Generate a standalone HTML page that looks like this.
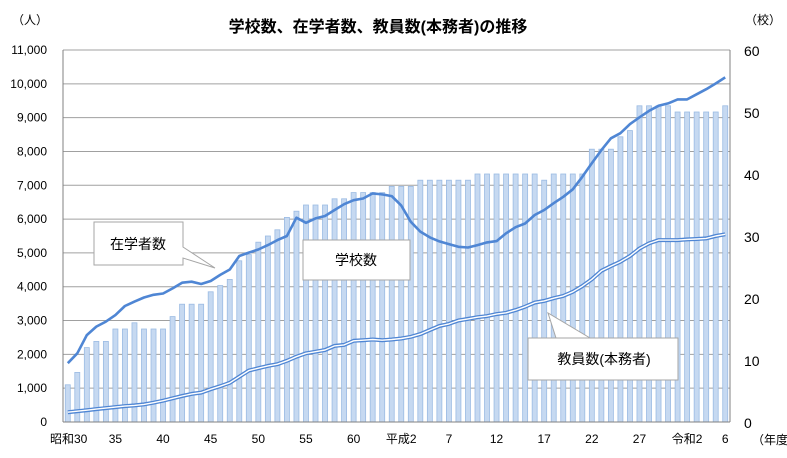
<!DOCTYPE html>
<html><head><meta charset="utf-8"><style>
body{margin:0;background:#fff;}
svg text{font-family:"Liberation Sans","Noto Sans CJK JP",sans-serif;}
</style></head><body>
<svg id="chart" width="787" height="453" xmlns="http://www.w3.org/2000/svg">
<text x="378" y="32" text-anchor="middle" font-size="16" font-weight="bold" fill="#000">学校数、在学者数、教員数(本務者)の推移</text>
<text x="12" y="24" font-size="12" fill="#000">（人）</text>
<text x="745" y="24" font-size="12" fill="#000">（校）</text>
<text x="752" y="444" font-size="12" fill="#000">（年度）</text>
<g id="grid"></g><g id="bars"></g><g id="lines"></g><g id="axes"></g>
<g id="callouts">
<g>
<path d="M94,222 H183 V247 L215,268 L183,258 V265 H94 Z" fill="#fff" stroke="#a6a6a6"/>
<text x="138" y="249" text-anchor="middle" font-size="14" fill="#000">在学者数</text></g>
<g>
<rect x="303" y="240" width="107" height="40" fill="#fff" stroke="#a6a6a6"/>
<text x="356" y="265" text-anchor="middle" font-size="14" fill="#000">学校数</text></g>
<g>
<path d="M528,338 H590 L548,313 L556,338 H678 V380 H528 Z" fill="#fff" stroke="#a6a6a6"/>
<text x="604" y="364" text-anchor="middle" font-size="14" fill="#000">教員数(本務者)</text></g>
</g>
</svg>
<script>
const years = [];for(let y=1955;y<=2024;y++)years.push(y);
const xLabels = ["昭和30","35","40","45","50","55","60","平成2","7","12","17","22","27","令和2","6"];
const xLabelYears = [1955,1960,1965,1970,1975,1980,1985,1990,1995,2000,2005,2010,2015,2020,2024];
const leftTicks = [0,1000,2000,3000,4000,5000,6000,7000,8000,9000,10000,11000];
const rightTicks = [0,10,20,30,40,50,60];
const schools = [6,8,12,13,13,15,15,16,15,15,15,17,19,19,19,21,22,23,26,27,29,30,31,33,34,35,35,35,36,36,37,37,37,37,38,38,
38,39,39,39,39,39,39,40,40,40,40,40,40,40,39,40,40,40,40,44,44,44,46,47,51,51,51,51,50,50,50,50,50,51];
const students = [1740,2030,2570,2820,2970,3160,3430,3560,3680,3760,3800,3950,4120,4150,4080,4170,4350,4510,4910,5010,5100,5230,5380,5500,6040,5890,6020,6090,6270,6440,6560,6610,6760,6730,6680,6400,
5920,5630,5460,5340,5260,5180,5160,5230,5310,5350,5580,5760,5870,6120,6270,6470,6660,6880,7250,7650,8040,8390,8540,8810,9010,9200,9350,9420,9540,9540,9690,9840,10010,10190];
const teachers = [290,320,350,380,410,440,470,490,520,570,630,700,770,830,870,970,1060,1160,1340,1520,1590,1660,1710,1810,1930,2030,2080,2130,2250,2280,2400,2420,2440,2420,2440,2470,
2520,2600,2720,2840,2900,3000,3050,3100,3130,3190,3230,3310,3410,3530,3580,3660,3730,3850,4020,4220,4470,4610,4740,4910,5130,5280,5380,5380,5380,5400,5410,5430,5500,5550];
const X0=63,X1=730,Y0=422,Y1=50;
const band=(X1-X0)/years.length;
const xC=i=>X0+band*(i+0.5);
const yL=v=>Y0-(v/11000)*(Y0-Y1);
const yR=v=>Y0-(v/60)*(Y0-Y1);
const NS="http://www.w3.org/2000/svg";
function mk(tag,attrs,parent){const e=document.createElementNS(NS,tag);for(const k in attrs)e.setAttribute(k,attrs[k]);document.getElementById(parent).appendChild(e);return e;}
leftTicks.forEach(t=>{
 const l=mk('line',{x1:X0,x2:X1,y1:yL(t),y2:yL(t),stroke:'#a0a0a0','stroke-width':1},'grid');
 
 
 const tx=mk('text',{x:47,y:yL(t)+4,'text-anchor':'end','font-size':12,fill:'#000'},'axes');
 tx.textContent=t.toLocaleString('en-US');
 
 
});
rightTicks.forEach(t=>{
 const tx=mk('text',{x:744,y:yR(t)+6,'font-size':14,fill:'#000'},'axes');
 tx.textContent=t;
 
 
});
schools.forEach((v,i)=>{
 const r=mk('rect',{x:xC(i)-2.5,y:yR(v),width:5,height:Y0-yR(v),fill:'#c6d9f1',stroke:'#9bbbe3','stroke-width':0.8},'bars');
 
 
});
const pts=arr=>arr.map((v,i)=>xC(i).toFixed(1)+','+yL(v).toFixed(1)).join(' ');
const s=mk('polyline',{points:pts(students),fill:'none',stroke:'#4f86d4','stroke-width':2.6,'stroke-linejoin':'round'},'lines');


const t1=mk('polyline',{points:pts(teachers),fill:'none',stroke:'#4f86d4','stroke-width':4,'stroke-linejoin':'round'},'lines');


const t2=mk('polyline',{points:pts(teachers),fill:'none',stroke:'#fff','stroke-width':1.4,'stroke-linejoin':'round'},'lines');


const a1=mk('line',{x1:X0,x2:X0,y1:Y1,y2:Y0,stroke:'#808080'},'axes');


const a2=mk('line',{x1:X1,x2:X1,y1:Y1,y2:Y0,stroke:'#808080'},'axes');


const a3=mk('line',{x1:X0,x2:X1,y1:Y0,y2:Y0,stroke:'#808080'},'axes');


xLabels.forEach((lab,k)=>{
 const i=years.indexOf(xLabelYears[k]);
 let x=xC(i);
 const tx=mk('text',{x:x,y:443,'text-anchor':k===0?'start':'middle','font-size':12,fill:'#000'},'axes');
 if(k===0)tx.setAttribute('x',50);
 tx.textContent=lab;
 
 
});
</script>
</body></html>
